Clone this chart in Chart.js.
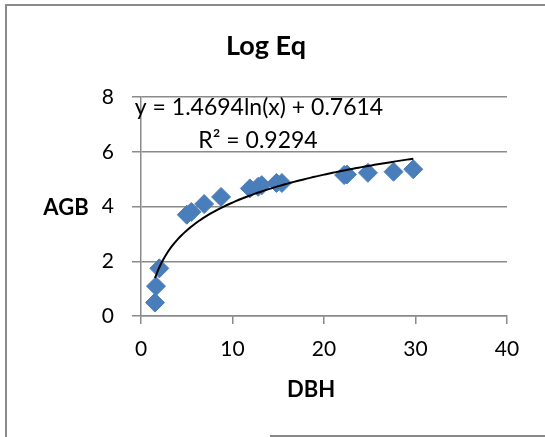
<!DOCTYPE html>
<html>
<head>
<meta charset="utf-8">
<script src="https://cdn.jsdelivr.net/npm/chart.js@4.4.1/dist/chart.umd.min.js"></script>
<style>
	html, body { margin: 0; padding: 0; background: #fff; }
	#wrap { position: relative; width: 545px; height: 437px; overflow: hidden; }
	#wrap canvas { position: absolute; left: 0; top: 0; }
	.edge { position: absolute; background: #8a8a8a; }
</style>
</head>
<body>
<div id="wrap">
	<canvas id="chart" width="545" height="437"></canvas>
	<div class="edge" style="left:5px; top:4px; width:2px; height:433px;"></div>
	<div class="edge" style="left:5px; top:4px; width:540px; height:2px;"></div>
	<div class="edge" style="left:270px; top:435px; width:275px; height:2px;"></div>
</div>
<script>
// DBH (x) vs AGB (y) samples
const dbh = [1.53, 1.64, 2.0, 5.0, 5.5, 6.9, 8.75, 11.9, 12.8, 13.2, 14.8, 15.4, 22.2, 22.5, 24.8, 27.6, 29.76];
const agb = [0.49, 1.09, 1.74, 3.7, 3.8, 4.09, 4.35, 4.66, 4.72, 4.78, 4.86, 4.86, 5.15, 5.17, 5.23, 5.27, 5.36];

// log trendline: y = a*ln(x) + b
const trendA = 1.4694;
const trendB = 0.7614;
const trendR2 = 0.9294;

const xTicks = [0, 10, 20, 30, 40];
const yTicks = [0, 2, 4, 6, 8];

const FONT = 'Lato, "Open Sans", sans-serif';
const GRID = '#8a8a8a';

const xMin = Math.min(...dbh), xMax = Math.max(...dbh);
const trend = [];
for (let i = 0; i <= 80; i++) {
	const x = xMin + (xMax - xMin) * i / 80;
	trend.push({ x: x, y: trendA * Math.log(x) + trendB });
}

// title, axis names and the equation box
const labelsPlugin = {
	id: 'labels',
	afterDatasetsDraw(chart) {
		const ctx = chart.ctx;
		ctx.save();
		ctx.fillStyle = '#000';
		ctx.textAlign = 'center';
		ctx.textBaseline = 'middle';
		ctx.font = 'bold 27px ' + FONT;
		ctx.fillText('Log Eq', 266, 46);
		ctx.font = 'bold 22px ' + FONT;
		ctx.fillText('AGB', 66, 208);
		ctx.fillText('DBH', 311, 390);
		ctx.font = '23px ' + FONT;
		ctx.fillText('y = ' + trendA.toFixed(4) + 'ln(x) + ' + trendB.toFixed(4), 259, 108);
		ctx.fillText('R\u00b2 = ' + trendR2.toFixed(4), 258, 141);
		ctx.restore();
	}
};

new Chart(document.getElementById('chart'), {
	data: {
		datasets: [
			{
				type: 'line',
				label: 'Log trend',
				data: trend,
				borderColor: '#000',
				borderWidth: 2,
				pointRadius: 0,
				fill: false,
				tension: 0,
				order: 0
			},
			{
				type: 'scatter',
				label: 'AGB',
				data: dbh.map((x, i) => ({ x: x, y: agb[i] })),
				pointStyle: 'rectRot',
				pointRadius: 9.5,
				backgroundColor: '#4a7ebb',
				borderColor: '#4a7ebb',
				borderWidth: 1,
				order: 1
			}
		]
	},
	options: {
		responsive: false,
		animation: false,
		devicePixelRatio: 1,
		layout: { padding: { top: 97, right: 38, left: 0, bottom: 0 } },
		plugins: {
			legend: { display: false },
			title: { display: false },
			tooltip: { enabled: false }
		},
		scales: {
			x: {
				type: 'linear',
				min: 0,
				max: 40,
				afterBuildTicks: s => { s.ticks = xTicks.map(v => ({ value: v })); },
				afterFit: s => { s.height = 121; },
				ticks: { font: { family: FONT, size: 21 }, color: '#000', padding: 13, maxRotation: 0 },
				grid: { drawOnChartArea: false, drawTicks: true, tickLength: 8, color: GRID, lineWidth: 1.5 },
				border: { display: true, color: GRID, width: 1.5 }
			},
			y: {
				type: 'linear',
				min: 0,
				max: 8,
				afterBuildTicks: s => { s.ticks = yTicks.map(v => ({ value: v })); },
				afterFit: s => { s.width = 141; },
				ticks: { font: { family: FONT, size: 21 }, color: '#000', padding: 18 },
				grid: { color: GRID, lineWidth: 1.5, tickLength: 9 },
				border: { display: true, color: GRID, width: 1.5 }
			}
		}
	},
	plugins: [labelsPlugin]
});
</script>
</body>
</html>
